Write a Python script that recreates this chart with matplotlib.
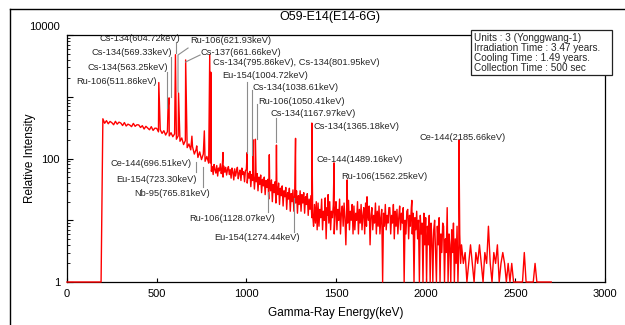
import numpy as np
import matplotlib.pyplot as plt
from matplotlib.lines import Line2D
from matplotlib.patches import Rectangle

plt.rcParams['font.family'] = ['Liberation Sans', 'DejaVu Sans']

# continuum: channel energies (keV) and counts, zero counts drawn at 1
energy_low = np.arange(0, 800, 10)
counts_low = [1, 1, 1, 1, 1, 1, 1, 1, 1, 1,
              1, 1, 1, 1, 1, 1, 1, 1, 1, 1,
              440, 372, 410, 365, 398, 380, 352, 400, 360, 388,
              375, 342, 382, 336, 360, 348, 328, 370, 332, 352,
              350, 318, 340, 300, 332, 312, 292, 328, 285, 310,
              308, 270, 292, 255, 282, 240, 272, 232, 262, 225,
              250, 205, 232, 190, 215, 168, 195, 150, 172, 138,
              155, 118, 140, 104, 128, 96, 118, 90, 108, 84]

energy_mid = np.arange(800, 2200, 5)
counts_mid = [85, 62, 74, 55, 80, 66, 58, 77, 52, 70, 63, 82, 57, 68, 50, 75, 60, 72, 54, 66,
              74, 55, 66, 48, 70, 60, 45, 68, 52, 62, 72, 47, 58, 65, 44, 70, 55, 61, 42, 64,
              66, 40, 58, 48, 62, 35, 55, 44, 60, 32, 52, 42, 57, 30, 50, 38, 54, 28, 46, 36,
              50, 26, 44, 34, 46, 22, 40, 30, 45, 20, 38, 28, 42, 19, 36, 26, 40, 18, 33, 25,
              36, 17, 30, 24, 34, 15, 28, 22, 33, 14, 27, 20, 31, 14, 26, 19, 30, 13, 25, 18,
              30, 14, 26, 19, 28, 13, 24, 18, 27, 12, 22, 15, 25, 11, 12, 8, 18, 9, 20, 7,
              19, 8, 15, 11, 22, 7, 14, 10, 23, 5, 16, 12, 9, 20, 7, 14, 11, 18, 6, 13,
              20, 7, 15, 10, 22, 6, 13, 17, 8, 19, 11, 4, 16, 9, 21, 7, 14, 10, 18, 6,
              17, 7, 13, 10, 20, 6, 15, 9, 18, 7, 12, 16, 6, 19, 8, 14, 10, 17, 4, 12,
              16, 7, 12, 9, 19, 6, 14, 8, 17, 6, 11, 15, 1, 13, 8, 18, 7, 12, 9, 16,
              16, 6, 12, 9, 18, 5, 14, 8, 15, 6, 11, 17, 7, 13, 9, 16, 1, 10, 6, 14,
              15, 5, 12, 8, 16, 6, 13, 1, 11, 7, 14, 5, 10, 1, 12, 6, 9, 1, 13, 4,
              11, 1, 8, 4, 12, 1, 9, 5, 1, 7, 10, 3, 1, 8, 4, 11, 1, 6, 3, 9,
              8, 1, 5, 3, 16, 1, 6, 4, 1, 7, 3, 9, 1, 5, 2, 8, 1, 4, 6, 2]

energy_high = np.arange(2200, 2710, 10)
counts_high = [4, 2, 3, 1, 2, 4, 2, 1, 3, 2,
               4, 2, 1, 3, 2, 8, 2, 1, 3, 2,
               4, 1, 2, 3, 2, 1, 2, 1, 2, 1,
               1, 1, 1, 1, 1, 3, 1, 1, 1, 1,
               1, 2, 1, 1, 1, 1, 1, 1, 1, 1,
               1]

# photopeaks (keV) and their heights
peak_energy = [511.86, 563.25, 569.33, 604.72, 621.93, 661.66, 696.51, 723.30,
               765.81, 795.86, 801.95, 870.0, 1004.72, 1038.61, 1050.41,
               1128.07, 1167.97, 1274.44, 1365.18, 1456.0, 1489.16, 1562.25,
               1673.0, 1923.0, 2185.66]
peak_height = [1700, 650, 960, 4800, 1150, 3950, 230, 160,
               280, 4800, 2500, 125, 125, 200, 205,
               115, 165, 212, 375, 26, 85, 45,
               24, 21, 200]

labels = ["Ru-106(511.86keV)", "Cs-134(563.25keV)", "Cs-134(569.33keV)",
          "Cs-134(604.72keV)", "Ru-106(621.93keV)", "Cs-137(661.66keV)",
          "Cs-134(795.86keV), Cs-134(801.95keV)", "Eu-154(1004.72keV)",
          "Cs-134(1038.61keV)", "Ru-106(1050.41keV)", "Cs-134(1167.97keV)",
          "Cs-134(1365.18keV)", "Ce-144(2185.66keV)", "Ce-144(1489.16keV)",
          "Ru-106(1562.25keV)", "Ce-144(696.51keV)", "Eu-154(723.30keV)",
          "Nb-95(765.81keV)", "Ru-106(1128.07keV)", "Eu-154(1274.44keV)"]
# label anchor (keV, intensity) and alignment
label_x = [502, 563, 586, 630, 686, 747, 814, 864, 1032, 1065, 1132, 1377,
           1963, 1394, 1528, 697, 725, 797, 1160, 1299]
label_y = [1734, 2923, 5114, 8940, 8000, 5114, 3523, 2250, 1438, 853, 526, 324,
           215, 94.6, 52, 84.5, 46.5, 27.6, 10.5, 5.16]
label_ha = ['right'] * 4 + ['left'] * 11 + ['right'] * 5

# leader lines: (keV list, intensity list)
leaders = [([556, 556], [2516, 657]),
           ([578, 578], [4400, 990]),
           ([606, 606], [7710, 5114]),
           ([675, 619, 619], [6155, 4745, 1194]),
           ([742, 661], [4745, 3653]),
           ([1005, 1005], [1734, 123]),
           ([1033, 1033], [1286, 114]),
           ([1061, 1061], [763, 207]),
           ([1167, 1167], [453, 185]),
           ([719, 719], [88, 60]),
           ([760, 760], [73, 34.5]),
           ([1123, 1123], [28.7, 13.6]),
           ([1268, 1268], [22.9, 6.45])]

info = ["Units : 3 (Yonggwang-1)", "Irradiation Time : 3.47 years.",
        "Cooling Time : 1.49 years.", "Collection Time : 500 sec"]

E = np.concatenate([energy_low, energy_mid, energy_high, peak_energy])
I = np.concatenate([counts_low, counts_mid, counts_high, peak_height]).astype(float)
order = np.argsort(E)
E, I = E[order], I[order]

fig = plt.figure(figsize=(6.25, 3.25), dpi=100)
ax = fig.add_axes([0.1072, 0.1323, 0.8608, 0.76])

ax.plot(E, I, color='#ff0000', lw=1.0, zorder=3, clip_on=False)

for xs, ys in leaders:
    ax.plot(xs, ys, color='#8c8c8c', lw=0.8, zorder=4)

for t, x, y, ha in zip(labels, label_x, label_y, label_ha):
    ax.text(x, y, t, ha=ha, va='center', fontsize=6.7, color='#262626', zorder=5)

ax.set_yscale('log')
ax.set_xlim(0, 3000)
ax.set_ylim(1, 10000)
ax.set_xticks([0, 500, 1000, 1500, 2000, 2500, 3000])
ax.set_yticks([1, 10, 100, 1000, 10000])
ax.set_yticklabels(['1', '', '100', '', ''])
ax.tick_params(axis='both', which='both', direction='in', labelsize=8, pad=5)
ax.tick_params(axis='y', which='major', length=4)
ax.tick_params(axis='y', which='minor', length=2.5)
ax.tick_params(axis='x', length=3)
ax.annotate('10000', xy=(0, 1), xycoords='axes fraction', xytext=(-7, 8),
            textcoords='offset pixels', ha='right', va='center', fontsize=8)
for s in ax.spines.values():
    s.set_linewidth(0.9)

ax.set_xlabel('Gamma-Ray Energy(keV)', fontsize=8.5, labelpad=6)
ax.set_ylabel('Relative Intensity', fontsize=8.5, labelpad=4)
fig.text(0.528, 0.947, 'O59-E14(E14-6G)', ha='center', va='center', fontsize=9)

# info box
fig.add_artist(Rectangle((0.7536, 0.769), 0.2256, 0.1385, transform=fig.transFigure,
                         fill=True, facecolor='white', edgecolor='#222222', lw=0.9, zorder=6))
for k, line in enumerate(info):
    fig.text(0.7584, 0.882 - k * 0.0305, line, ha='left', va='center', fontsize=7.2,
             color='#262626', zorder=7)

# outer frame
fig.add_artist(Line2D([0.016, 0.016], [0.0, 0.972], transform=fig.transFigure, color='black', lw=1))
fig.add_artist(Line2D([0.016, 1.0], [0.972, 0.972], transform=fig.transFigure, color='black', lw=1))

fig.savefig('out.png', dpi=100)
